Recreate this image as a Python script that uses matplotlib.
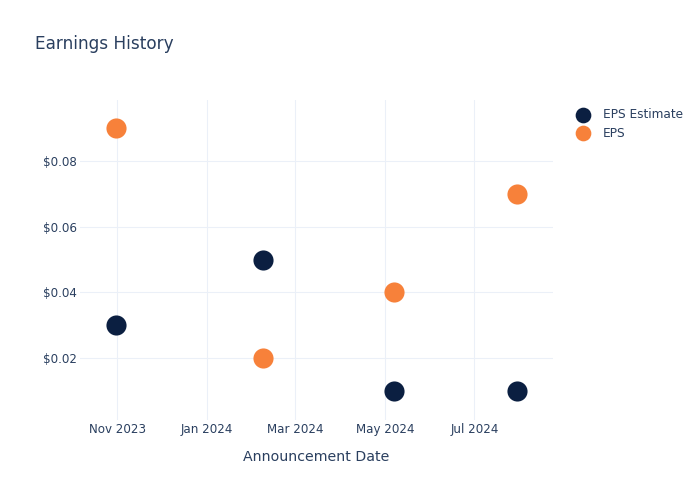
import matplotlib
matplotlib.use('Agg')
import matplotlib.pyplot as plt
import matplotlib.dates as mdates
import numpy as np
from datetime import datetime

dates=['2023-10-31','2024-02-08','2024-05-07','2024-07-30']
eps_estimate=[0.03,0.05,0.01,0.01]
eps=[0.09,0.02,0.04,0.07]
yticks=[0.02,0.04,0.06,0.08]

txt='#2a3f5f'
navy='#0b1f41'
orange='#f7813a'
plt.rcParams['font.family']=['DejaVu Sans']

x=[datetime.strptime(d,'%Y-%m-%d') for d in dates]

fig=plt.figure(figsize=(7,5),dpi=100)
ax=fig.add_axes([80/700,80/500,473/700,320/500])
ax.scatter(x,eps_estimate,s=210,color=navy,label='EPS Estimate',zorder=3,linewidths=0)
ax.scatter(x,eps,s=210,color=orange,label='EPS',zorder=3,linewidths=0)

ax.set_xlim(datetime(2023,10,6,12),datetime(2024,8,23,12))
ax.set_ylim(0.0011,0.0986)
ax.xaxis.set_major_locator(mdates.MonthLocator(bymonth=[1,3,5,7,11]))
ax.xaxis.set_major_formatter(mdates.DateFormatter('%b %Y'))
ax.set_yticks(yticks)
ax.set_yticklabels(['$%.2f'%v for v in yticks])
ax.grid(True,color='#ebf0f8',linewidth=0.75)
ax.set_axisbelow(True)
for s in ax.spines.values():
    s.set_visible(False)
ax.tick_params(length=0,labelsize=8.6,labelcolor=txt)
ax.tick_params(axis='x',pad=2.5)
ax.tick_params(axis='y',pad=2)
ax.set_xlabel('Announcement Date',fontsize=10.2,color=txt,labelpad=10)

fig.text(35/700,1-44/500,'Earnings History',fontsize=12.2,color=txt,va='center')
leg=ax.legend(loc='upper left',bbox_to_anchor=(1.018,1.005),frameon=False,fontsize=8.7,
              labelcolor=txt,markerscale=0.78,handletextpad=0.65,labelspacing=0.45,borderpad=0.3)
fig.savefig('out.png',dpi=100)
